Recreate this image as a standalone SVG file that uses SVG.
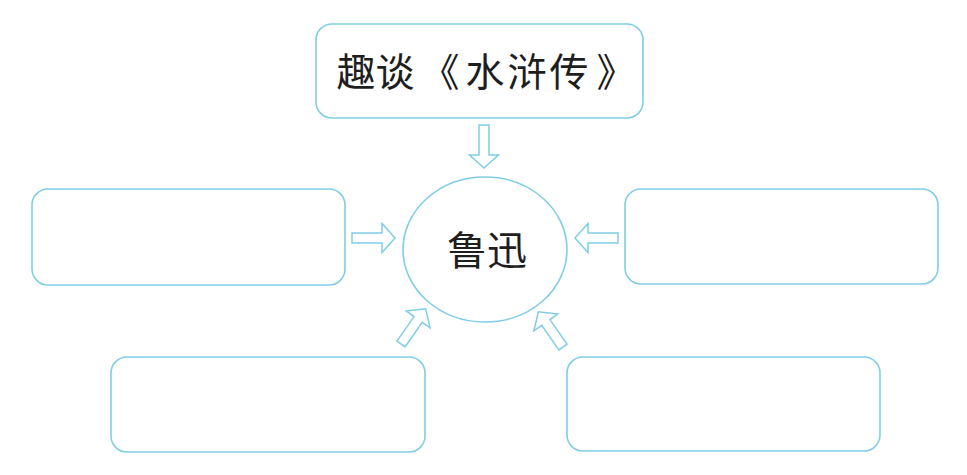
<svg xmlns="http://www.w3.org/2000/svg" width="967" height="475" viewBox="0 0 967 475">
  <style>
    .box { fill: #ffffff; stroke: #80cde6; stroke-width: 1.6; }
    .arr { fill: #ffffff; stroke: #80cde6; stroke-width: 1.5; stroke-linejoin: miter; }
    .lbl { font-family: "Noto Sans CJK SC", "Noto Sans CJK TC", sans-serif; fill: #1e1e1e; }
  </style>
  <defs>
    <path id="arrow" d="M0,-5 H30 V-14.5 L43,0 L30,14.5 V5 H0 Z"/>
  </defs>
  <rect width="967" height="475" fill="#ffffff"/>
  <g id="connectors">
    <use href="#arrow" class="arr" transform="translate(484,125) rotate(90)"/>
    <use href="#arrow" class="arr" transform="translate(352,238)"/>
    <use href="#arrow" class="arr" transform="translate(618,238) rotate(180)"/>
    <use href="#arrow" class="arr" transform="translate(401,344) rotate(-55)"/>
    <use href="#arrow" class="arr" transform="translate(563,347) rotate(-125)"/>
  </g>
  <g id="node-top">
    <rect class="box" x="316" y="24" width="327" height="94" rx="16"/>
    <text class="lbl" y="86" font-size="39" text-anchor="middle"><tspan x="356">趣</tspan><tspan x="395">谈</tspan><tspan x="440">《</tspan><tspan x="485">水</tspan><tspan x="527">浒</tspan><tspan x="569">传</tspan><tspan x="616">》</tspan></text>
  </g>
  <g id="node-center">
    <ellipse class="box" cx="485" cy="249.5" rx="82" ry="72.5"/>
    <text class="lbl" x="487" y="265" font-size="40" text-anchor="middle">鲁迅</text>
  </g>
  <g id="node-left">
    <rect class="box" x="32" y="189" width="313" height="96" rx="16"/>
  </g>
  <g id="node-right">
    <rect class="box" x="625" y="189" width="313" height="95" rx="16"/>
  </g>
  <g id="node-bottom-left">
    <rect class="box" x="111" y="357" width="314" height="95" rx="16"/>
  </g>
  <g id="node-bottom-right">
    <rect class="box" x="567" y="357" width="313" height="94" rx="16"/>
  </g>
</svg>
